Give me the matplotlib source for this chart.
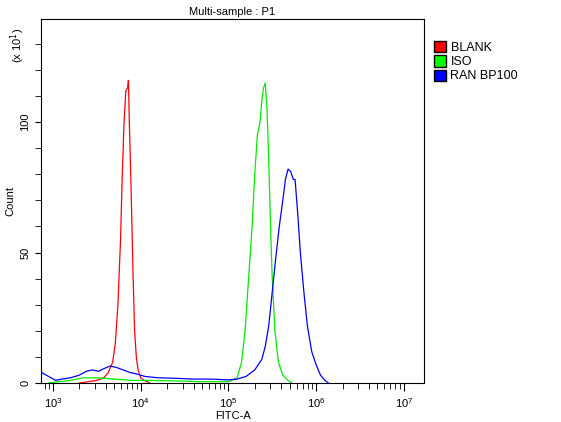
import matplotlib.pyplot as plt
import matplotlib.patches as mpatches
import numpy as np

plt.rcParams['font.family'] = ['Liberation Sans', 'DejaVu Sans']

# log10(FITC-A) positions and counts (x10)
blank_x = [3.30, 3.40, 3.50, 3.58, 3.63, 3.68, 3.71, 3.74, 3.77, 3.79, 3.81, 3.83, 3.85, 3.86, 3.87, 3.89, 3.91, 3.93, 3.95, 3.97, 4.00, 4.04, 4.10]
blank_y = [0, 0.5, 1, 2, 4, 8, 15, 30, 55, 80, 100, 112, 113, 116, 100, 75, 45, 20, 10, 5, 2, 1, 0]

iso_x = [2.95, 3.20, 3.35, 3.50, 3.70, 3.90, 4.10, 4.40, 4.70, 5.00, 5.10, 5.15, 5.19, 5.23, 5.27, 5.30, 5.33, 5.36, 5.38, 5.40, 5.42, 5.44, 5.46, 5.48, 5.50, 5.53, 5.57, 5.62, 5.68, 5.72]
iso_y = [0, 1, 2, 2, 1.5, 1, 1, 0.8, 0.5, 0.5, 2, 8, 20, 40, 60, 80, 95, 100, 108, 113, 115, 105, 85, 60, 40, 20, 8, 3, 1, 0]

ran_x = [2.86, 2.87, 3.03, 3.10, 3.20, 3.30, 3.38, 3.45, 3.52, 3.58, 3.65, 3.72, 3.80, 3.88, 3.95, 4.05, 4.20, 4.40, 4.60, 4.80, 5.00, 5.10, 5.20, 5.30, 5.38, 5.42, 5.46, 5.50, 5.54, 5.58, 5.62, 5.65, 5.68, 5.71, 5.74, 5.76, 5.79, 5.82, 5.86, 5.90, 5.95, 6.00, 6.05, 6.10, 6.14]
ran_y = [0, 4, 1, 1.5, 2, 3, 4.5, 5, 4.5, 5.5, 6.5, 6, 5, 4, 3.5, 2.5, 2, 1.8, 1.5, 1.5, 1.2, 1.5, 2.5, 5, 9, 14, 22, 35, 48, 60, 70, 78, 82, 81, 78, 78, 65, 50, 35, 22, 12, 7, 3, 1, 0]

fig = plt.figure(figsize=(5.61, 4.22), dpi=100)
ax = fig.add_axes([41/561, 1-383/422, 383/561, 364/422])

for xs, ys, col in [(blank_x, blank_y, '#ff0000'), (iso_x, iso_y, '#00ee00'), (ran_x, ran_y, '#0000ff')]:
    ax.plot(10 ** np.array(xs), ys, color=col, lw=0.9)

ax.set_xscale('log')
ax.set_xlim(10 ** 2.863, 10 ** 7.23)
ax.set_ylim(0, 139.5)
ax.set_yticks([0, 50, 100])
ax.set_yticks(np.arange(0, 140, 10), minor=True)
ax.tick_params(axis='y', labelrotation=90, labelsize=8, length=4)
for lab in ax.get_yticklabels():
    lab.set_va('center')
ax.tick_params(axis='x', labelsize=8, length=6)
ax.tick_params(which='minor', length=4)
ax.set_xlabel('FITC-A', fontsize=8, labelpad=1)
ax.set_ylabel('Count', fontsize=8)
ax.set_title('Multi-sample : P1', fontsize=8, pad=3)
fig.text(8/561, 1-45/422, '(x 10$^1$)', rotation=90, fontsize=8, ha='left', va='center')

handles = [mpatches.Patch(facecolor=c, edgecolor='black', label=l)
           for c, l in [('#ff0000', 'BLANK'), ('#00ff00', 'ISO'), ('#0000ff', 'RAN BP100')]]
fig.legend(handles=handles, loc='upper left', bbox_to_anchor=(428/561, 1-35/422), frameon=False,
           fontsize=9, handlelength=0.9, handleheight=1.0, handletextpad=0.4, labelspacing=0.1, borderpad=0)

fig.savefig('out.png', dpi=100)
